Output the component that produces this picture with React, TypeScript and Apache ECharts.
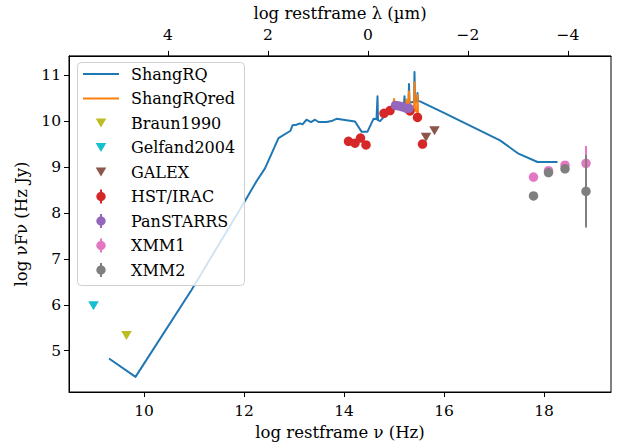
import React, { useEffect, useRef } from "react";
import * as echarts from "echarts";

const LOGC_UM = 14.4768; // log10(c in micron/s)
const X_MIN = 8.5;
const X_MAX = 19.34;
const Y_MIN = 4.1;
const Y_MAX = 11.42;

const xTicks = [10, 12, 14, 16, 18];
const lamTicks = [4, 2, 0, -2, -4];
const yTicks = [5, 6, 7, 8, 9, 10, 11];

const shangRQ: number[][] = [
  [9.3, 4.83], [9.83, 4.43], [10.95, 6.32], [12.02, 8.26], [12.25, 8.69], [12.42, 8.97],
  [12.69, 9.63], [12.93, 9.79], [12.97, 9.91], [13.05, 9.92], [13.12, 9.95], [13.17, 9.93],
  [13.25, 10.03], [13.34, 9.98], [13.42, 10.03], [13.49, 9.98], [13.65, 9.98], [13.75, 10.0],
  [13.85, 10.05], [14.22, 9.99], [14.35, 9.77], [14.47, 9.77], [14.59, 10.05], [14.65, 10.04],
  [14.66, 10.04], [14.67, 10.54], [14.68, 10.02], [14.72, 10.0], [14.79, 10.08], [14.85, 10.15],
  [14.95, 10.28], [15.1, 10.35], [15.2, 10.38], [15.21, 10.54], [15.22, 10.38], [15.29, 10.4],
  [15.3, 10.81], [15.31, 10.4], [15.4, 10.42], [15.41, 11.07], [15.42, 10.42], [15.46, 10.43],
  [15.47, 10.61], [15.48, 10.44], [15.52, 10.43], [16.0, 10.18], [17.12, 9.58], [17.49, 9.29],
  [17.87, 9.11], [18.27, 9.11],
];

const shangRQred: number[][] = [
  [14.85, 10.15], [14.98, 10.28], [14.99, 10.28], [15.0, 10.48], [15.01, 10.28], [15.1, 10.3],
  [15.24, 10.28], [15.25, 10.47], [15.26, 10.28], [15.29, 10.28], [15.3, 10.65], [15.31, 10.27],
  [15.4, 10.25], [15.41, 10.84], [15.42, 10.24], [15.46, 10.2], [15.47, 10.57], [15.48, 10.18],
  [15.5, 10.15],
];

const braun1990: number[][] = [[9.65, 5.33]];
const gelfand2004: number[][] = [[8.99, 5.98]];
const galex: number[][] = [[15.64, 9.65], [15.81, 9.79]];
const hstIrac: number[][] = [
  [14.09, 9.56], [14.22, 9.52], [14.33, 9.63], [14.44, 9.48], [14.8, 10.17],
  [14.92, 10.23], [15.32, 10.22], [15.47, 10.08], [15.57, 9.5],
];
const panstarrs: number[][] = [
  [15.03, 10.34], [15.1, 10.33], [15.17, 10.31], [15.24, 10.28], [15.3, 10.28],
];
// [x, y, yErr]
const xmm1: number[][] = [[17.79, 8.78, 0.0], [18.09, 8.92, 0.0], [18.42, 9.04, 0.0], [18.84, 9.08, 0.38]];
const xmm2: number[][] = [[17.79, 8.37, 0.0], [18.09, 8.88, 0.0], [18.42, 8.96, 0.0], [18.84, 8.47, 0.79]];

const C = {
  blue: "#1f77b4",
  orange: "#ff7f0e",
  olive: "#bcbd22",
  cyan: "#17becf",
  brown: "#8c564b",
  red: "#d62728",
  purple: "#9467bd",
  pink: "#e377c2",
  gray: "#7f7f7f",
};

const FONT = "DejaVu Serif";

const legendItems = [
  { name: "ShangRQ", kind: "line", color: C.blue },
  { name: "ShangRQred", kind: "line", color: C.orange },
  { name: "Braun1990", kind: "tri", color: C.olive },
  { name: "Gelfand2004", kind: "tri", color: C.cyan },
  { name: "GALEX", kind: "tri", color: C.brown },
  { name: "HST/IRAC", kind: "err", color: C.red },
  { name: "PanSTARRS", kind: "err", color: C.purple },
  { name: "XMM1", kind: "err", color: C.pink },
  { name: "XMM2", kind: "err", color: C.gray },
];

function minusFmt(v: number) {
  return v < 0 ? "\u2212" + Math.abs(v) : String(v);
}

function errSeries(data: number[][], color: string, z: number) {
  return {
    type: "custom",
    xAxisIndex: 0,
    yAxisIndex: 0,
    z,
    silent: true,
    data: data.map((d) => [d[0], d[1] - d[2], d[1] + d[2]]),
    encode: { x: 0, y: [1, 2] },
    renderItem: (params: any, api: any) => {
      const x = api.value(0);
      const p1 = api.coord([x, api.value(1)]);
      const p2 = api.coord([x, api.value(2)]);
      return {
        type: "line",
        shape: { x1: p1[0], y1: p1[1], x2: p2[0], y2: p2[1] },
        style: { stroke: color, lineWidth: 2 },
      };
    },
  };
}

function scatter(name: string, data: number[][], color: string, z: number, tri = false) {
  return {
    name,
    type: "scatter",
    xAxisIndex: 0,
    yAxisIndex: 0,
    z,
    data: data.map((d) => [d[0], d[1]]),
    symbol: tri ? "triangle" : "circle",
    symbolRotate: tri ? 180 : 0,
    symbolSize: tri ? [10.5, 9] : 9.5,
    itemStyle: { color, opacity: 1 },
  };
}

export default function App() {
  const ref = useRef<HTMLDivElement>(null);
  useEffect(() => {
    if (!ref.current) return;
    const chart = echarts.init(ref.current, undefined, { renderer: "svg" });

    const legendEls: any[] = [
      {
        type: "rect",
        z: 100,
        shape: { x: 77.5, y: 62.5, width: 167, height: 223, r: 4 },
        style: { fill: "rgba(255,255,255,0.8)", stroke: "#d0d0d0", lineWidth: 1 },
      },
    ];
    legendItems.forEach((it, i) => {
      const y = 74 + i * 24.5;
      const cx = 101;
      if (it.kind === "line") {
        legendEls.push({
          type: "line",
          z: 101,
          shape: { x1: 83, y1: y, x2: 119, y2: y },
          style: { stroke: it.color, lineWidth: 2 },
        });
      } else if (it.kind === "tri") {
        legendEls.push({
          type: "polygon",
          z: 101,
          shape: { points: [[cx - 5.3, y - 4.5], [cx + 5.3, y - 4.5], [cx, y + 4.5]] },
          style: { fill: it.color },
        });
      } else {
        legendEls.push({
          type: "line",
          z: 101,
          shape: { x1: cx, y1: y - 7, x2: cx, y2: y + 7 },
          style: { stroke: it.color, lineWidth: 2 },
        });
        legendEls.push({
          type: "circle",
          z: 102,
          shape: { cx, cy: y, r: 4.7 },
          style: { fill: it.color },
        });
      }
      legendEls.push({
        type: "text",
        z: 103,
        x: 131,
        y,
        style: {
          text: it.name,
          fill: "#000",
          font: `16px "${FONT}"`,
          verticalAlign: "middle",
          textVerticalAlign: "middle",
        },
      });
    });

    const axisCommon = {
      axisLine: { show: true, onZero: false, lineStyle: { color: "#000", width: 1 } },
      axisTick: { show: true, length: 5, lineStyle: { color: "#000", width: 1 } },
      splitLine: { show: false },
      nameTextStyle: { fontFamily: FONT, fontSize: 16.5, color: "#000" },
    };

    const option: any = {
      animation: false,
      backgroundColor: "#fff",
      grid: {
        left: 69,
        top: 52,
        right: 7,
        bottom: 51,
        show: true,
        borderColor: "#000",
        borderWidth: 1,
        containLabel: false,
      },
      xAxis: [
        {
          ...axisCommon,
          type: "value",
          position: "bottom",
          min: X_MIN,
          max: X_MAX,
          name: "log restframe \u03bd (Hz)",
          nameLocation: "middle",
          nameGap: 32,
          axisTick: { ...axisCommon.axisTick, customValues: xTicks },
          axisLabel: {
            customValues: xTicks,
            fontFamily: FONT,
            fontSize: 15.5,
            color: "#000",
            margin: 11,
            formatter: (v: number) => minusFmt(v),
          },
        },
        {
          ...axisCommon,
          type: "value",
          position: "top",
          inverse: true,
          min: LOGC_UM - X_MAX,
          max: LOGC_UM - X_MIN,
          name: "log restframe \u03bb (\u00b5m)",
          nameLocation: "middle",
          nameGap: 31,
          axisTick: { ...axisCommon.axisTick, customValues: lamTicks },
          axisLabel: {
            customValues: lamTicks,
            fontFamily: FONT,
            fontSize: 15.5,
            color: "#000",
            margin: 13,
            formatter: (v: number) => minusFmt(v),
          },
        },
      ],
      yAxis: [
        {
          ...axisCommon,
          type: "value",
          min: Y_MIN,
          max: Y_MAX,
          name: "log \u03bdF\u03bd (Hz Jy)",
          nameLocation: "middle",
          nameGap: 39,
          axisTick: { ...axisCommon.axisTick, customValues: yTicks },
          axisLabel: {
            customValues: yTicks,
            fontFamily: FONT,
            fontSize: 15.5,
            color: "#000",
            margin: 8,
            formatter: (v: number) => minusFmt(v),
          },
        },
      ],
      series: [
        {
          name: "ShangRQ",
          type: "line",
          xAxisIndex: 0,
          yAxisIndex: 0,
          z: 2,
          data: shangRQ,
          symbol: "none",
          lineStyle: { color: C.blue, width: 2, join: "round" },
        },
        {
          name: "ShangRQred",
          type: "line",
          xAxisIndex: 0,
          yAxisIndex: 0,
          z: 3,
          data: shangRQred,
          symbol: "none",
          lineStyle: { color: C.orange, width: 2, join: "round" },
        },
        scatter("Braun1990", braun1990, C.olive, 4, true),
        scatter("Gelfand2004", gelfand2004, C.cyan, 5, true),
        scatter("GALEX", galex, C.brown, 6, true),
        scatter("HST/IRAC", hstIrac, C.red, 7),
        scatter("PanSTARRS", panstarrs, C.purple, 8),
        errSeries(xmm1, C.pink, 9),
        scatter("XMM1", xmm1, C.pink, 9),
        errSeries(xmm2, C.gray, 10),
        scatter("XMM2", xmm2, C.gray, 10),
      ],
      graphic: { elements: legendEls },
    };

    chart.setOption(option);
    return () => chart.dispose();
  }, []);

  return (
    <div
      ref={ref}
      style={{ position: "fixed", left: 0, top: 0, width: 618, height: 446 }}
    />
  );
}
